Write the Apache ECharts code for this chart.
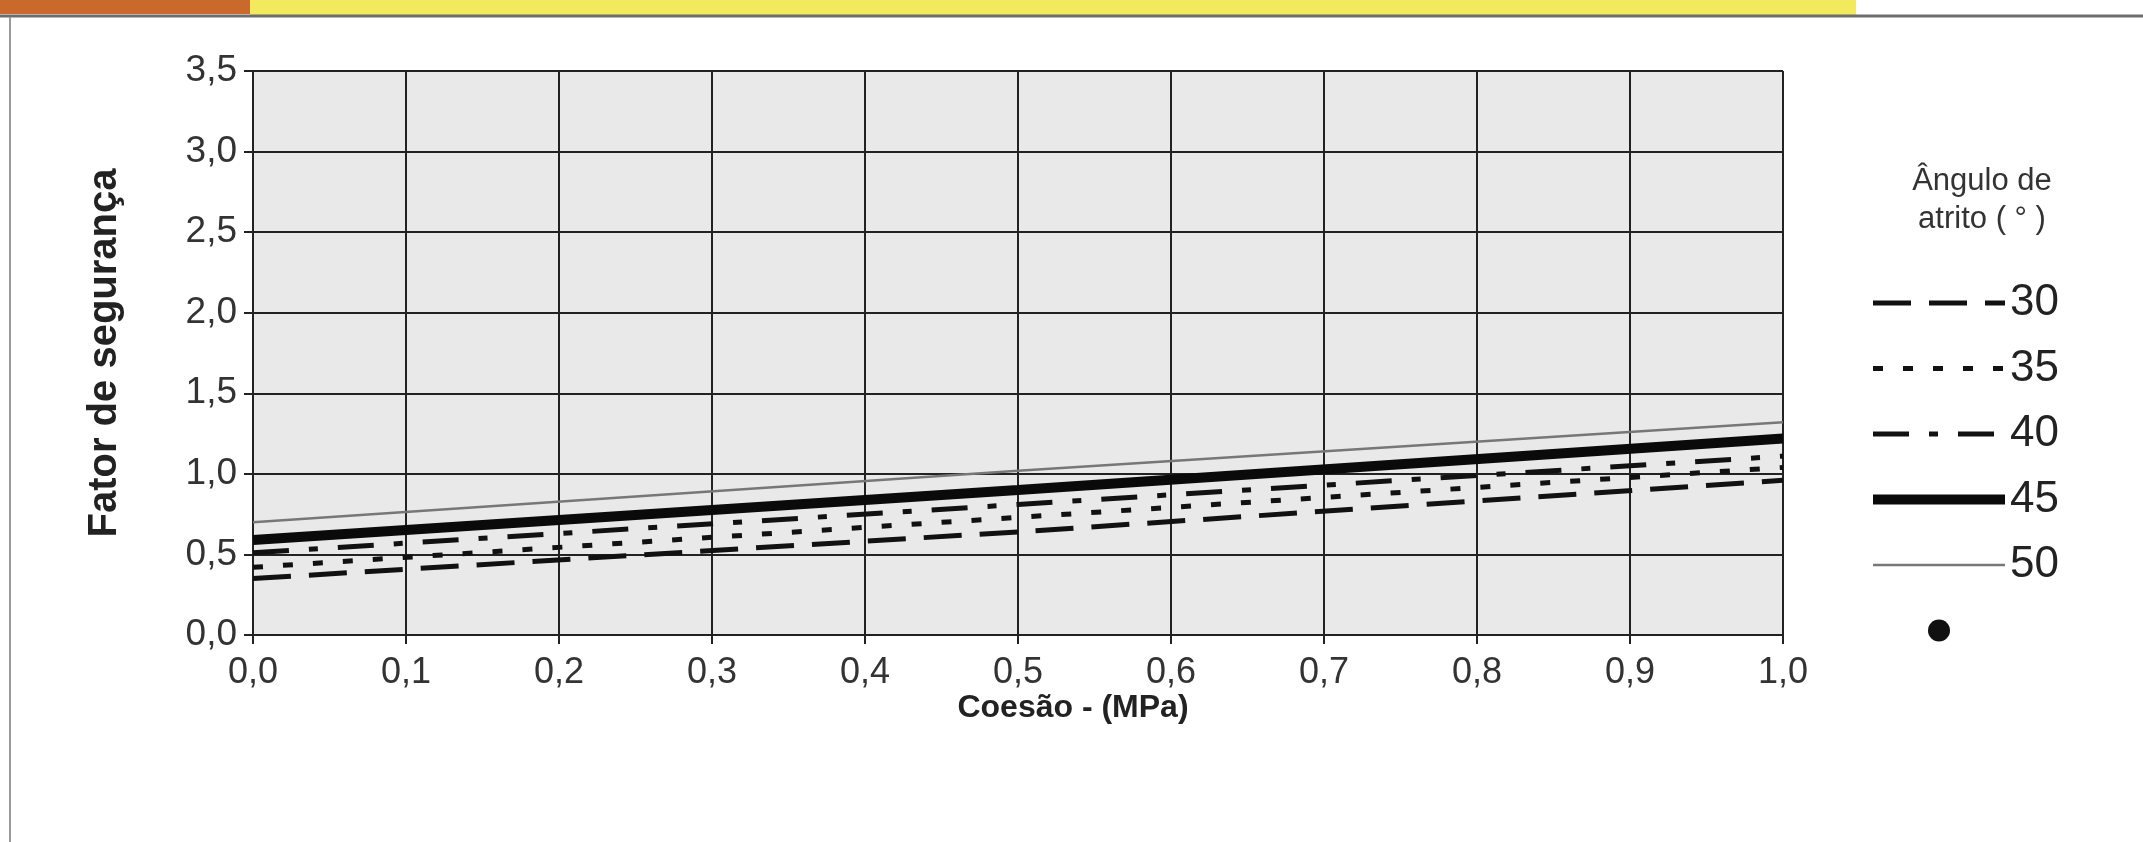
<!DOCTYPE html>
<html>
<head>
<meta charset="utf-8">
<script src="https://cdn.jsdelivr.net/npm/echarts@6/dist/echarts.min.js"></script>
<style>
html,body{margin:0;padding:0;background:#ffffff;}
#chart{width:2143px;height:842px;}
</style>
</head>
<body>
<div id="chart"></div>
<script>
// ---- data ----
const cohesion = [0.0, 0.5, 1.0];          // Coesão (MPa)
const fs30 = [0.35, 0.64, 0.96];
const fs35 = [0.42, 0.73, 1.04];
const fs40 = [0.51, 0.81, 1.11];
const fs45 = [0.59, 0.90, 1.22];
const fs50 = [0.70, 1.02, 1.32];
const seriesNames = ['30', '35', '40', '45', '50'];
const xTickLabels = ['0,0','0,1','0,2','0,3','0,4','0,5','0,6','0,7','0,8','0,9','1,0'];
const yTickLabels = ['0,0','0,5','1,0','1,5','2,0','2,5','3,0','3,5'];
const xTitle = 'Coesão - (MPa)';
const yTitle = 'Fator de segurança';
const legendTitle = 'Ângulo de\natrito ( ° )';

function pairs(ys) { return cohesion.map((x, i) => [x, ys[i]]); }

const chart = echarts.init(document.getElementById('chart'), null, {renderer: 'canvas'});
const FONT = 'Liberation Sans, Arial, sans-serif';
const INK = '#111111';

const styles = [
  {color: INK, width: 5, type: [38, 18]},
  {color: INK, width: 5, type: [10, 20]},
  {color: INK, width: 5, type: [36, 20, 9, 20]},
  {color: '#0a0a0a', width: 10, type: 'solid'},
  {color: '#777777', width: 2.5, type: 'solid'}
];

const option = {
  backgroundColor: '#ffffff',
  animation: false,
  grid: {
    left: 253, right: 360, top: 71, bottom: 207,
    show: true, backgroundColor: '#e9e9e9', borderWidth: 0
  },
  xAxis: {
    type: 'value', min: 0, max: 1, interval: 0.1,
    name: xTitle, nameLocation: 'middle', nameGap: 57, nameMoveOverlap: false,
    nameTextStyle: {fontFamily: FONT, fontWeight: 'bold', fontSize: 32, color: '#222', padding: [0, 0, 0, 110]},
    axisLine: {show: true, lineStyle: {color: '#222', width: 2}},
    axisTick: {show: true, inside: false, length: 9, lineStyle: {color: '#222', width: 2}},
    axisLabel: {
      margin: 20, fontFamily: FONT, fontSize: 36, color: '#333',
      formatter: v => xTickLabels[Math.round(v * 10)]
    },
    splitLine: {show: true, lineStyle: {color: '#222', width: 2}}
  },
  yAxis: {
    type: 'value', min: 0, max: 3.5, interval: 0.5,
    name: yTitle, nameLocation: 'middle', nameGap: 128, nameRotate: 90, nameMoveOverlap: false,
    nameTextStyle: {fontFamily: FONT, fontWeight: 'bold', fontSize: 40, color: '#222'},
    axisLine: {show: true, lineStyle: {color: '#222', width: 2}},
    axisTick: {show: true, inside: false, length: 9, lineStyle: {color: '#222', width: 2}},
    axisLabel: {
      margin: 16, fontFamily: FONT, fontSize: 37, color: '#333',
      formatter: v => yTickLabels[Math.round(v * 2)]
    },
    splitLine: {show: true, lineStyle: {color: '#222', width: 2}}
  },
  legend: {
    orient: 'vertical', left: 1863, top: 276,
    itemWidth: 132, itemHeight: 22, itemGap: 21.5,
    itemStyle: {opacity: 0},
    textStyle: {fontFamily: FONT, fontSize: 44, color: '#222', lineHeight: 44},
    data: seriesNames.map((n, i) => ({name: n, lineStyle: {width: styles[i].width, type: styles[i].type, color: styles[i].color}}))
      .concat([{name: ' ', itemStyle: {opacity: 1, color: INK}}])
  },
  series: seriesNames.map((n, i) => ({
    name: n, type: 'line', data: pairs([fs30, fs35, fs40, fs45, fs50][i]), symbol: 'none',
    itemStyle: {color: styles[i].color}, lineStyle: styles[i]
  })).concat([
    {name: ' ', type: 'scatter', data: [], symbol: 'circle', symbolSize: 22, itemStyle: {color: INK}}
  ]),
  graphic: [
    {type: 'rect', shape: {x: 0, y: 0, width: 250, height: 14}, style: {fill: '#c9692c'}, silent: true},
    {type: 'rect', shape: {x: 250, y: 0, width: 1606, height: 15}, style: {fill: '#f2ea5c'}, silent: true},
    {type: 'line', shape: {x1: 0, y1: 16, x2: 2143, y2: 16}, style: {stroke: '#6d6d6d', lineWidth: 3}, silent: true},
    {type: 'line', shape: {x1: 10, y1: 17, x2: 10, y2: 842}, style: {stroke: '#9a9a9a', lineWidth: 2}, silent: true},
    {type: 'text', x: 1982, y: 200, silent: true,
     style: {text: legendTitle, fontFamily: FONT, fontSize: 31, fill: '#333', align: 'center', verticalAlign: 'middle', lineHeight: 38}}
  ]
};
chart.setOption(option);
</script>
</body>
</html>
